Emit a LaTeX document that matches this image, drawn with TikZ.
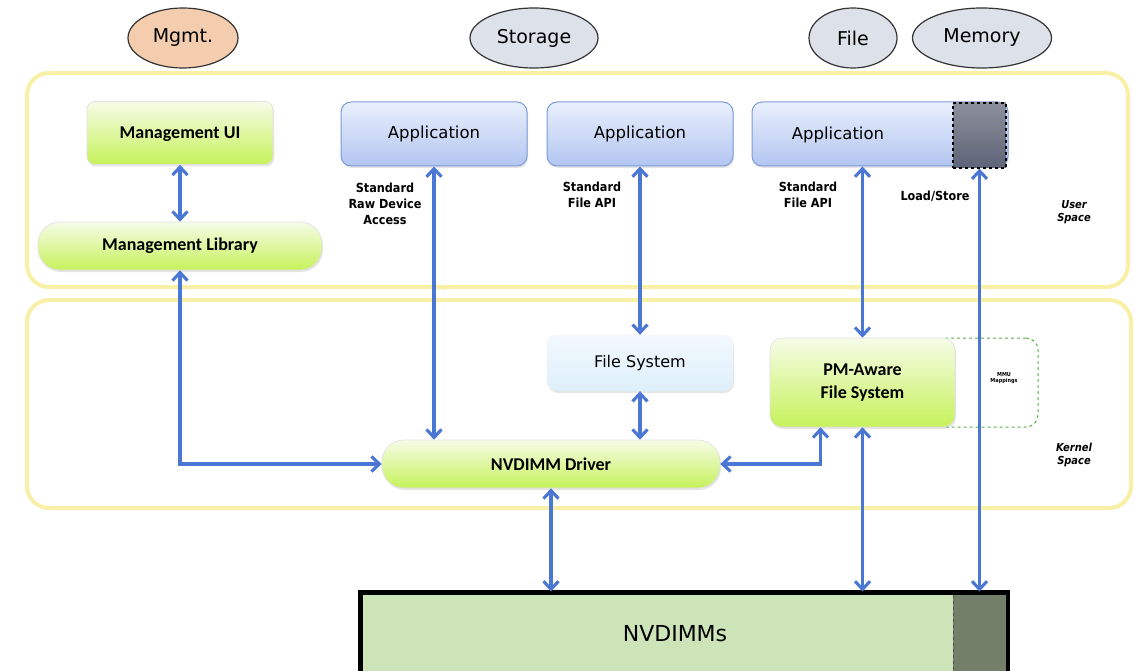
\documentclass[tikz,border=0pt]{standalone}
\usepackage{fontspec}
\setmainfont{DejaVu Sans}
\newfontfamily\calfont{Carlito}
\newfontfamily\condfont{DejaVu Sans Condensed}
\usetikzlibrary{arrows.meta,shadows,positioning,shapes.geometric}
\definecolor{mgmtc}{HTML}{F4CDAE}
\definecolor{ellc}{HTML}{DDE1EA}
\definecolor{grtop}{HTML}{F6FCE8}
\definecolor{grbot}{HTML}{C6F25A}
\definecolor{bltop}{HTML}{E9EFFC}
\definecolor{blbot}{HTML}{B3C6F1}
\definecolor{blbord}{HTML}{7C9BDA}
\definecolor{fstop}{HTML}{F3F9FE}
\definecolor{fsbot}{HTML}{DDEFFB}
\definecolor{arrc}{HTML}{4A77D4}
\definecolor{frame}{HTML}{F7F0A6}
\definecolor{nvfill}{HTML}{CDE3B8}
\definecolor{nvdark}{HTML}{737F69}
\definecolor{dktop}{HTML}{8C8F9B}
\definecolor{dkbot}{HTML}{5E6478}
\definecolor{mmuc}{HTML}{5AAE48}
\tikzset{
  ell/.style={ellipse, draw=black!80, line width=1.2pt, inner sep=0pt, font=\fontsize{19}{22}\selectfont},
  spacebox/.style={draw=frame, line width=4pt, rounded corners=22pt, fill=white,
     drop shadow={shadow xshift=1pt, shadow yshift=-2pt, opacity=0.12}},
  greenbox/.style={rectangle, top color=grtop, bottom color=grbot, draw=black!12, line width=0.6pt,
     drop shadow={shadow xshift=1pt, shadow yshift=-2pt, opacity=0.2},
     font=\calfont\bfseries\fontsize{18}{21}\selectfont, align=center, inner sep=0pt},
  appbox/.style={rectangle, rounded corners=10pt, top color=bltop, bottom color=blbot, draw=blbord, line width=1pt,
     drop shadow={shadow xshift=1pt, shadow yshift=-2pt, opacity=0.2},
     minimum height=64pt, inner sep=0pt, font=\fontsize{16.5}{20}\selectfont},
  lbl/.style={font=\condfont\bfseries\fontsize{12.5}{16}\selectfont, align=center, inner sep=0pt},
  spacelbl/.style={font=\condfont\bfseries\itshape\fontsize{11}{13.5}\selectfont, align=center, inner sep=0pt},
  conn/.style={draw=arrc, line width=3.1pt, {Straight Barb[length=8pt,width=15pt]}-{Straight Barb[length=8pt,width=15pt]}},
}
\begin{document}
\begin{tikzpicture}[x=1pt,y=-1pt]
\useasboundingbox (0,0) rectangle (1142,671);
\clip (0,0) rectangle (1142,671);
\fill[white] (0,0) rectangle (1142,671);

% ellipses
\node[ell, fill=mgmtc, minimum width=110pt, minimum height=60pt] (mgmt) at (183,38) {Mgmt.};
\node[ell, fill=ellc, minimum width=128pt, minimum height=60pt] (stor) at (534,38) {Storage};
\node[ell, fill=ellc, minimum width=88pt, minimum height=60pt] (file) at (853,38) {File};
\node[ell, fill=ellc, minimum width=139pt, minimum height=60pt] (mem) at (982,38) {Memory};

% space frames
\node[spacebox, minimum width=1101pt, minimum height=214pt] (user) at (577.5,180) {};
\node[spacebox, minimum width=1104pt, minimum height=208pt] (kern) at (579,404) {};
\node[spacelbl] (userl) at (1074,212) {User\\Space};
\node[spacelbl] (kernl) at (1074,455) {Kernel\\Space};

% user space boxes
\node[greenbox, rounded corners=8pt, minimum width=186pt, minimum height=63pt, text depth=-4pt] (mui) at (180,133) {Management UI};
\node[greenbox, rounded corners=22pt, minimum width=284pt, minimum height=48pt] (mlib) at (180,246) {Management Library};
\node[appbox, minimum width=186pt] (app1) at (434,134) {Application};
\node[appbox, minimum width=186pt] (app2) at (640,134) {Application};
\node[appbox, minimum width=256pt] (app3) at (880,134) {};
\node[font=\fontsize{16.5}{20}\selectfont, inner sep=0pt] (app3t) at (838,135) {Application};
\node[rectangle, draw=black, dashed, line width=1.3pt, top color=dktop, bottom color=dkbot,
      minimum width=53pt, minimum height=65pt, inner sep=0pt] (dk) at (979.5,135.5) {};

% labels
\node[lbl] (l1) at (385,204) {Standard\\Raw Device\\Access};
\node[lbl] (l2) at (592,195) {Standard\\File API};
\node[lbl] (l3) at (808,195) {Standard\\File API};
\node[lbl] (l4) at (935,196) {Load/Store};

% kernel space boxes
\node[rectangle, rounded corners=12pt, draw=mmuc, dashed, line width=1pt, minimum width=103pt, minimum height=89pt] (mmu) at (986.5,382.5) {};
\node[font=\condfont\bfseries\fontsize{5.5}{6.5}\selectfont, align=center, inner sep=0pt] (mmut) at (1004,378) {MMU\\Mappings};
\node[rectangle, rounded corners=10pt, top color=fstop, bottom color=fsbot, draw=black!6,
      drop shadow={shadow xshift=1pt, shadow yshift=-2pt, opacity=0.2},
      minimum width=186pt, minimum height=56pt, inner sep=0pt, font=\fontsize{16}{19}\selectfont] (fs) at (640,363) {File System};
\node[greenbox, rounded corners=12pt, minimum width=185pt, minimum height=89pt] (pm) at (862.5,382.5) {PM-Aware\\[2pt]File System};
\node[greenbox, rounded corners=22pt, minimum width=338pt, minimum height=48pt] (drv) at (551,464) {NVDIMM Driver};

% NVDIMMs
\node[rectangle, draw=black, line width=3pt, fill=nvfill, minimum width=646pt, minimum height=100pt,
      inner sep=0pt] (nv) at (684,643) {};
\fill[nvdark] (953,594.5) rectangle (1005.5,700);
\draw[black!70, dashed, line width=1pt] (953,595) -- (953,700);
\draw[black, line width=3pt] (nv.north west) rectangle (nv.south east);
\node[font=\fontsize{22}{26}\selectfont, inner sep=0pt] (nvt) at (675,634) {NVDIMMs};

% connectors
\draw[conn] (mui.south) -- (mlib.north);
\draw[conn] (mlib.south) |- (drv.west);
\draw[conn] (app1.south) -- (app1.south |- drv.north);
\draw[conn] (app2.south) -- (fs.north);
\draw[conn] (fs.south) -- (fs.south |- drv.north);
\draw[conn] (app3.south -| pm.north) -- (pm.north);
\draw[conn] (drv.east) -| ([xshift=-42pt]pm.south);
\draw[conn] (pm.south) -- (pm.south |- nv.north);
\draw[conn] (dk.south) -- (dk.south |- nv.north);
\draw[conn] (drv.south) -- (drv.south |- nv.north);
\end{tikzpicture}
\end{document}
